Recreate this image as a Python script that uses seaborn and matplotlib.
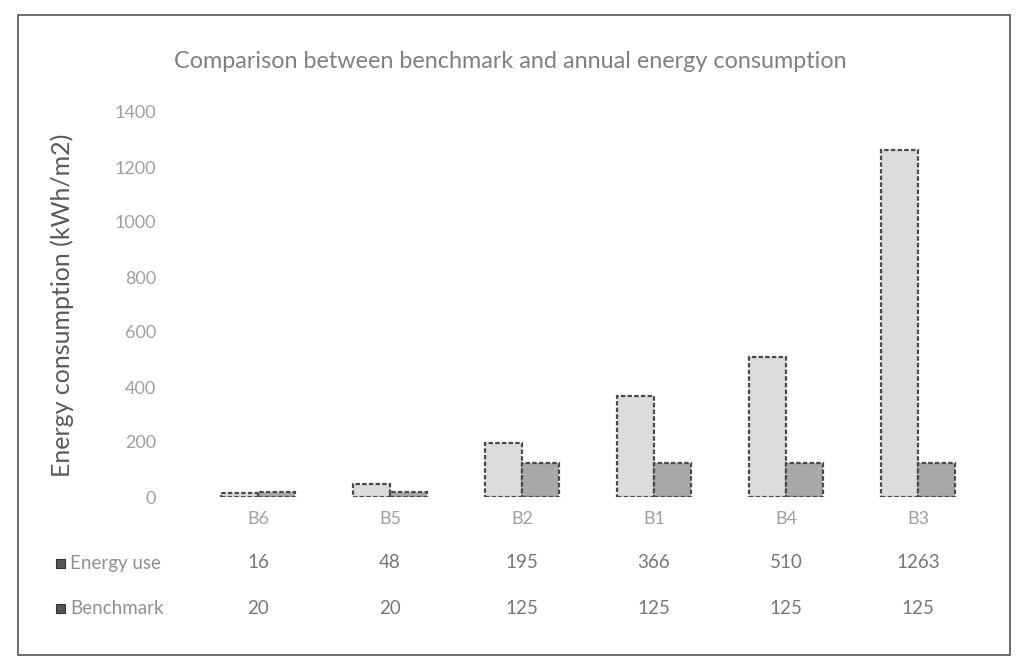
import matplotlib
matplotlib.use("Agg")
import matplotlib.pyplot as plt
import seaborn as sns
import pandas as pd
from matplotlib.patches import Rectangle

buildings = ["B6", "B5", "B2", "B1", "B4", "B3"]
energy_use = [16, 48, 195, 366, 510, 1263]
benchmark = [20, 20, 125, 125, 125, 125]
series_names = ["Energy use", "Benchmark"]
y_ticks = [0, 200, 400, 600, 800, 1000, 1200, 1400]

df = pd.DataFrame({
    "Building": buildings * 2,
    "Series": [series_names[0]] * len(buildings) + [series_names[1]] * len(buildings),
    "Value": energy_use + benchmark,
})

sns.set_theme(style="white")
plt.rcParams["font.family"] = ["Lato", "DejaVu Sans"]
plt.rcParams["font.weight"] = "normal"

W, H = 1018, 666
fig = plt.figure(figsize=(W / 100, H / 100), dpi=100)
ax = fig.add_axes([192 / W, 1 - 497 / H, (984 - 192) / W, (497 - 112) / H])

colors = {"Energy use": "#dcdcdc", "Benchmark": "#a8a8a8"}
sns.barplot(data=df, x="Building", y="Value", hue="Series", order=buildings,
            hue_order=series_names, palette=colors, width=0.56, ax=ax,
            edgecolor="#4a4a4a", linewidth=1.6, legend=False)
for p in ax.patches:
    p.set_linestyle((0, (2, 1)))

ax.set_ylim(0, 1400)
ax.set_xlim(-0.5, len(buildings) - 0.5)
ax.set_yticks(y_ticks)
ax.set_yticklabels([str(v) for v in y_ticks], color="#a0a0a0", fontsize=13)
ax.tick_params(axis="x", colors="#a0a0a0", labelsize=13, pad=10, length=0)
ax.tick_params(axis="y", length=0, pad=26)
ax.set_xlabel("")
ax.set_ylabel("")
for s in ax.spines.values():
    s.set_visible(False)

# Title and y label
fig.text(510 / W, 1 - 62 / H, "Comparison between benchmark and annual energy consumption",
         ha="center", va="center", fontsize=16.8, color="#808080")
fig.text(62 / W, 1 - 305 / H, "Energy consumption (kWh/m2)", rotation=90,
         ha="center", va="center", fontsize=18, color="#5a5a5a")

# Data table
row_y = [563, 608]
row_vals = [energy_use, benchmark]
for name, yy, vals in zip(series_names, row_y, row_vals):
    fig.patches.append(Rectangle((56 / W, 1 - (yy + 5) / H), 9 / W, 9 / H,
                                 transform=fig.transFigure, facecolor="#555555",
                                 edgecolor="#333333", lw=0.8))
    fig.text(70 / W, 1 - yy / H, name, ha="left", va="center", fontsize=13.5, color="#909090")
    for i, v in enumerate(vals):
        xf = fig.transFigure.inverted().transform(ax.transData.transform((i, 0)))[0]
        fig.text(xf, 1 - yy / H, str(v), ha="center", va="center", fontsize=13.5, color="#777777")

# Chart frame
fig.patches.append(Rectangle((18 / W, 1 - 655 / H), (1010 - 18) / W, (655 - 15) / H,
                             transform=fig.transFigure, fill=False,
                             edgecolor="#555555", lw=1.2))

fig.savefig("out.png", dpi=100)
